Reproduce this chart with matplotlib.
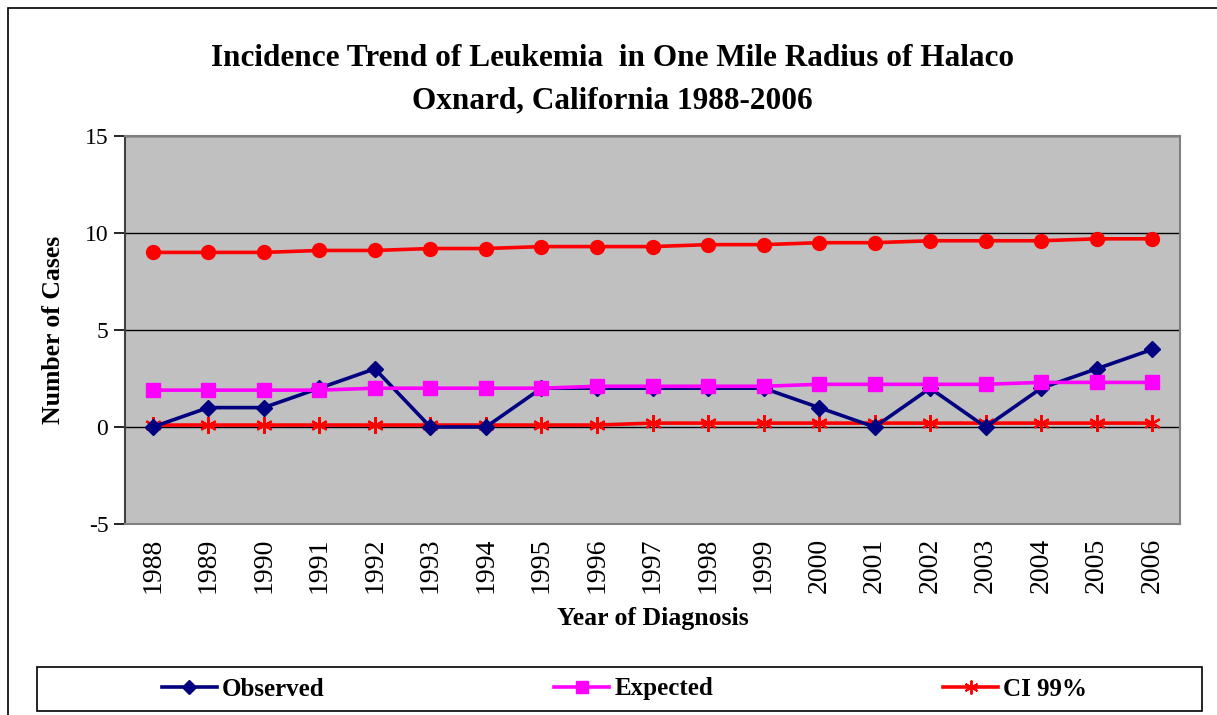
import matplotlib.pyplot as plt
from matplotlib.lines import Line2D
from matplotlib.patches import Rectangle

plt.rcParams['font.family'] = ['Liberation Serif', 'DejaVu Serif']
plt.rcParams['axes.unicode_minus'] = False

years = [str(y) for y in range(1988, 2007)]
observed = [0, 1, 1, 2, 3, 0, 0, 2, 2, 2, 2, 2, 1, 0, 2, 0, 2, 3, 4]
expected = [1.9, 1.9, 1.9, 1.9, 2.0, 2.0, 2.0, 2.0, 2.1, 2.1,
            2.1, 2.1, 2.2, 2.2, 2.2, 2.2, 2.3, 2.3, 2.3]
ci_upper = [9.0, 9.0, 9.0, 9.1, 9.1, 9.2, 9.2, 9.3, 9.3, 9.3,
            9.4, 9.4, 9.5, 9.5, 9.6, 9.6, 9.6, 9.7, 9.7]
ci_lower = [0.1, 0.1, 0.1, 0.1, 0.1, 0.1, 0.1, 0.1, 0.1, 0.2,
            0.2, 0.2, 0.2, 0.2, 0.2, 0.2, 0.2, 0.2, 0.2]

W, H = 1217, 715
fig = plt.figure(figsize=(W / 100, H / 100), dpi=100)

# outer chart border (left and top visible)
fig.patches.append(Rectangle((8 / W, -0.5), 2.0, 1.5 - 8 / H, transform=fig.transFigure,
                             fill=False, edgecolor='black', linewidth=1.2))

ax = fig.add_axes([125 / W, 1 - 524 / H, (1180 - 125) / W, (524 - 136) / H])
ax.set_facecolor('#c0c0c0')

x = list(range(len(years)))
lw = 2.6
ax.plot(x, ci_upper, color='#ff0000', lw=lw, marker='o', ms=10, zorder=3)
ax.plot(x, ci_lower, color='#ff0000', lw=lw, marker=(6, 2, 0), ms=12, mew=1.6, zorder=3)
ax.plot(x, observed, color='#000080', lw=lw, marker='D', ms=8.5, zorder=4)
ax.plot(x, expected, color='#ff00ff', lw=lw, marker='s', ms=10, zorder=5)

ax.set_xlim(-0.5, len(years) - 0.5)
ax.set_ylim(-5, 15)
ax.set_yticks([-5, 0, 5, 10, 15])
ax.set_xticks(x)
ax.set_xticklabels(years, rotation=90, fontsize=20)
ax.tick_params(axis='x', length=0, pad=10)
ax.tick_params(axis='y', labelsize=17, length=8, width=1.2, pad=4)
ax.grid(axis='y', color='black', linewidth=1)
ax.set_axisbelow(True)

for side in ('right', 'bottom', 'top'):
    ax.spines[side].set_color('#808080')
    ax.spines[side].set_linewidth(1.5)
ax.spines['left'].set_color('#404040')
ax.spines['left'].set_linewidth(1.5)

ax.set_xlabel('Year of Diagnosis', fontsize=18.5, fontweight='bold', labelpad=10)
ax.set_ylabel('Number of Cases', fontsize=18.5, fontweight='bold', labelpad=14)

fig.text(0.503, 1 - 59 / H, 'Incidence Trend of Leukemia  in One Mile Radius of Halaco',
         ha='center', va='center', fontsize=22.5, fontweight='bold')
fig.text(0.503, 1 - 101 / H, 'Oxnard, California 1988-2006',
         ha='center', va='center', fontsize=22.5, fontweight='bold')

# legend box along the bottom
fig.patches.append(Rectangle((37 / W, 1 - 711 / H), (1202 - 37) / W, 44 / H,
                             transform=fig.transFigure, fill=False,
                             edgecolor='black', linewidth=1.2))
handles = [
    Line2D([], [], color='#000080', lw=lw, marker='D', ms=7),
    Line2D([], [], color='#ff00ff', lw=lw, marker='s', ms=8),
    Line2D([], [], color='#ff0000', lw=lw, marker=(6, 2, 0), ms=10, mew=1.4),
]
fig.legend(handles, ['Observed', 'Expected', 'CI 99%'], loc='center',
           bbox_to_anchor=(0.513, 1 - 689 / H), ncol=3, frameon=False,
           prop={'size': 18, 'weight': 'bold'}, handlelength=2.2,
           handletextpad=0.2, columnspacing=9.2)

fig.savefig('out.png', dpi=100)
